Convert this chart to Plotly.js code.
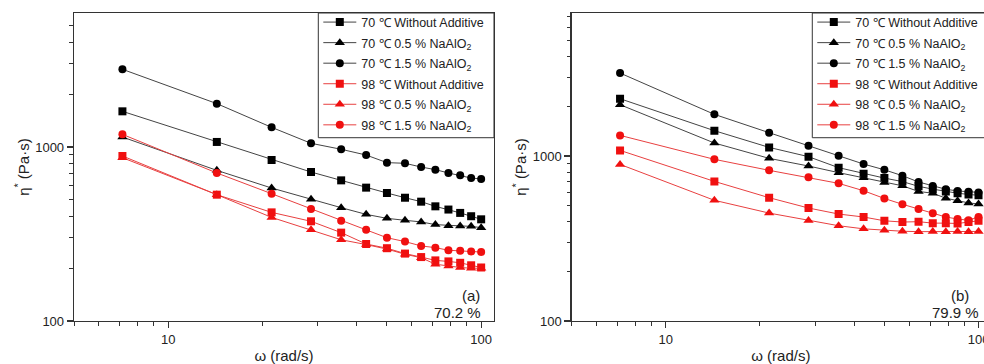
<!DOCTYPE html>
<html>
<head>
<meta charset="utf-8">
<script src="https://cdn.plot.ly/plotly-3.0.1.min.js"></script>
<style>
html, body { margin: 0; padding: 0; overflow: hidden; background: #fff; }
#chart { width: 992px; height: 364px; }
</style>
</head>
<body>
<div id="chart"></div>
<script>
// angular frequency (rad/s)
var omega = [7.14, 14.3, 21.4, 28.6, 35.7, 42.9, 50.0, 57.1, 64.3, 71.4, 78.6, 85.7, 92.9, 100];

var seriesNames = [
  "70 ℃ Without Additive",
  "70 ℃ 0.5 % NaAlO<sub>2</sub>",
  "70 ℃ 1.5 % NaAlO<sub>2</sub>",
  "98 ℃ Without Additive",
  "98 ℃ 0.5 % NaAlO<sub>2</sub>",
  "98 ℃ 1.5 % NaAlO<sub>2</sub>"
];

// panel (a) 70.2 %
var a70none = [1603, 1069, 842, 718, 643, 584, 544, 511, 485, 456, 437, 418, 400, 384];
var a70half = [1141, 734, 581, 500, 448, 410, 389, 379, 371, 358, 353, 352, 350, 344];
var a70one5 = [2795, 1775, 1297, 1050, 970, 899, 813, 806, 767, 741, 709, 687, 663, 655];
var a98none = [888, 532, 421, 374, 322, 277, 262, 244, 233, 223, 220, 216, 209, 203];
var a98half = [868, 532, 394, 335, 293, 275, 259, 242, 231, 212, 207, 203, 201, 201];
var a98one5 = [1182, 709, 539, 440, 377, 334, 301, 286, 270, 264, 255, 253, 251, 249];

// panel (b) 79.9 %
var b70none = [2225, 1424, 1128, 991, 850, 782, 735, 700, 655, 630, 610, 595, 585, 578];
var b70half = [2047, 1199, 968, 870, 793, 739, 690, 660, 610, 595, 555, 535, 520, 512];
var b70one5 = [3184, 1789, 1385, 1155, 1005, 894, 825, 760, 696, 658, 629, 614, 608, 602];
var b98none = [1082, 702, 559, 484, 445, 427, 405, 398, 400, 392, 392, 390, 398, 405];
var b98half = [890, 539, 451, 407, 378, 362, 355, 350, 348, 349, 348, 349, 348, 349];
var b98one5 = [1334, 955, 819, 743, 683, 616, 553, 510, 478, 450, 427, 415, 408, 427];

var xMajor = [10, 100];
var xMinor = [5, 6, 7, 8, 9, 20, 30, 40, 50, 60, 70, 80, 90];
var yMajor = [100, 1000];
var yMinor = [200, 300, 400, 500, 600, 700, 800, 900, 2000, 3000, 4000, 5000, 6000, 7000];

var symbols = ["square", "triangle-up", "circle", "square", "triangle-up", "circle"];
var lineCols = ["#444444", "#444444", "#444444", "#e84040", "#e84040", "#e84040"];
var markCols = ["#000000", "#000000", "#000000", "#f01010", "#f01010", "#f01010"];

function makeTraces(sets, xa, ya, leg, tag) {
  return sets.map(function (vals, i) {
    return {
      x: omega, y: vals, xaxis: xa, yaxis: ya, legend: leg,
      legendgroup: tag + i,
      name: seriesNames[i], type: "scatter", mode: "lines+markers",
      line: {color: lineCols[i], width: 1},
      marker: {symbol: symbols[i], color: markCols[i],
               size: symbols[i] === "triangle-up" ? 9 : 8}
    };
  });
}

var data = makeTraces([a70none, a70half, a70one5, a98none, a98half, a98one5], "x", "y", "legend", "a")
  .concat(makeTraces([b70none, b70half, b70one5, b98none, b98half, b98one5], "x2", "y2", "legend2", "b"));

var font = "Arial, 'Liberation Sans', sans-serif";
var axisCommon = {
  type: "log", showgrid: false, zeroline: false,
  showline: true, linecolor: "#333", linewidth: 1.3, mirror: true,
  ticks: "outside", ticklen: 6, tickwidth: 1.2, tickcolor: "#333",
  tickmode: "array",
  tickfont: {family: font, size: 13, color: "#222"}
};
function ax(extra) { return Object.assign({}, axisCommon, extra); }
var minorCommon = {tickmode: "array", ticks: "outside", ticklen: 3.5, tickcolor: "#333", tickwidth: 1};

var legCommon = {
  y: 1.018, yanchor: "top", xanchor: "left",
  bgcolor: "rgba(255,255,255,0)", borderwidth: 0,
  font: {family: font, size: 12.5, color: "#222"},
  itemwidth: 33, tracegroupgap: 1.3
};

var layout = {
  width: 992, height: 364,
  margin: {l: 74, r: 2, t: 13, b: 43},
  paper_bgcolor: "#fff", plot_bgcolor: "#fff",
  showlegend: true,
  xaxis: ax({domain: [0, 0.4585], range: [Math.log10(5), 2.041], anchor: "y",
    tickvals: xMajor, ticktext: ["10", "100"],
    minor: Object.assign({tickvals: xMinor}, minorCommon),
    title: {text: "ω (rad/s)", font: {family: font, size: 15, color: "#222"}, standoff: 18}}),
  yaxis: ax({domain: [0, 1], range: [2, 3.770], anchor: "x",
    tickvals: yMajor, ticktext: ["100", "1000"],
    minor: Object.assign({tickvals: yMinor}, minorCommon),
    title: {text: "η<sup>*</sup> (Pa·s)", font: {family: font, size: 15, color: "#222"}, standoff: 2}}),
  xaxis2: ax({domain: [0.5433, 1], range: [Math.log10(5), 2.0367], anchor: "y2",
    tickvals: xMajor, ticktext: ["10", "100"],
    minor: Object.assign({tickvals: xMinor}, minorCommon),
    title: {text: "ω (rad/s)", font: {family: font, size: 15, color: "#222"}, standoff: 18}}),
  yaxis2: ax({domain: [0, 1], range: [2, 3.867], anchor: "x2",
    tickvals: yMajor, ticktext: ["100", "1000"],
    minor: Object.assign({tickvals: yMinor}, minorCommon),
    title: {text: "η<sup>*</sup> (Pa·s)", font: {family: font, size: 15, color: "#222"}, standoff: 2}}),
  legend: Object.assign({}, legCommon, {x: 0.2667}),
  legend2: Object.assign({}, legCommon, {x: 0.806}),
  shapes: [
    {type: "rect", xref: "paper", yref: "paper", x0: 0.2667, x1: 0.4585, y0: 0.5951, y1: 1,
     line: {color: "#333", width: 1}, fillcolor: "#fff", layer: "below"},
    {type: "rect", xref: "paper", yref: "paper", x0: 0.806, x1: 1, y0: 0.5951, y1: 1,
     line: {color: "#333", width: 1}, fillcolor: "#fff", layer: "below"}
  ],
  annotations: [
    {text: "(a)", xref: "paper", yref: "paper", x: 0.4454, y: 0.0844, xanchor: "right", yanchor: "middle", showarrow: false, font: {family: font, size: 15, color: "#222"}},
    {text: "70.2 %", xref: "paper", yref: "paper", x: 0.4465, y: 0.029, xanchor: "right", yanchor: "middle", showarrow: false, font: {family: font, size: 15, color: "#222"}},
    {text: "(b)", xref: "paper", yref: "paper", x: 0.979, y: 0.0844, xanchor: "right", yanchor: "middle", showarrow: false, font: {family: font, size: 15, color: "#222"}},
    {text: "79.9 %", xref: "paper", yref: "paper", x: 0.990, y: 0.029, xanchor: "right", yanchor: "middle", showarrow: false, font: {family: font, size: 15, color: "#222"}}
  ]
};

Plotly.newPlot("chart", data, layout, {displayModeBar: false, staticPlot: true});
</script>
</body>
</html>
